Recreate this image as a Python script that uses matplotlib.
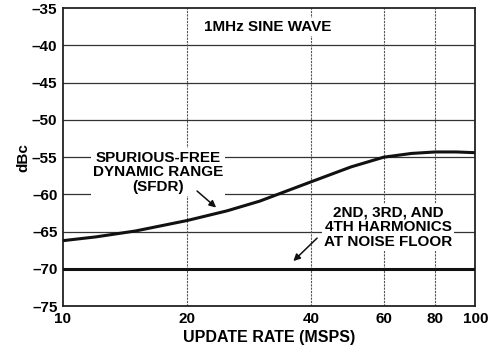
import matplotlib
matplotlib.use("Agg")
import matplotlib.pyplot as plt
from matplotlib.ticker import FixedLocator, NullLocator

plt.rcParams["font.family"] = ["Liberation Sans", "DejaVu Sans"]
plt.rcParams["font.weight"] = "bold"

# Data
sfdr_rate = [10, 12, 15, 20, 25, 30, 40, 50, 60, 70, 80, 90, 100]
sfdr_dbc = [-66.2, -65.7, -64.9, -63.5, -62.2, -60.9, -58.3, -56.3, -55.0, -54.5, -54.3, -54.3, -54.4]
floor_rate = [10, 100]
floor_dbc = [-70, -70]

x_ticks = [10, 20, 40, 60, 80, 100]
y_ticks = [-75, -70, -65, -60, -55, -50, -45, -40, -35]

fig = plt.figure(figsize=(4.92, 3.52), dpi=100)
ax = fig.add_axes([0.128, 0.13, 0.838, 0.847])

ax.set_xscale("log")
ax.set_xlim(10, 100)
ax.set_ylim(-75, -35)

# grid
for y in y_ticks[1:-1]:
    ax.axhline(y, color="#333333", lw=0.9, zorder=1)
for x in x_ticks[1:-1]:
    ax.axvline(x, color="#555555", lw=0.8, ls=(0, (2, 1)), zorder=1)

ax.plot(sfdr_rate, sfdr_dbc, color="#111111", lw=2.2, zorder=3)
ax.plot(floor_rate, floor_dbc, color="#111111", lw=2.2, zorder=3)

ax.xaxis.set_major_locator(FixedLocator(x_ticks))
ax.xaxis.set_minor_locator(NullLocator())
ax.set_xticklabels([str(v) for v in x_ticks])
ax.set_yticks(y_ticks)
ax.set_yticklabels(["\u2013%d" % abs(v) for v in y_ticks])
ax.tick_params(length=0, labelsize=11, pad=4)
for lab in ax.get_xticklabels() + ax.get_yticklabels():
    lab.set_fontweight("bold")

for s in ax.spines.values():
    s.set_linewidth(1.3)
    s.set_color("#222222")

ax.set_xlabel("UPDATE RATE (MSPS)", fontsize=11.5, fontweight="bold", labelpad=3)
ax.set_ylabel("dBc", fontsize=11, fontweight="bold", labelpad=1)

box = dict(facecolor="white", edgecolor="none", pad=1.5)
ax.text(31.3, -37.5, "1MHz SINE WAVE", fontsize=11, fontweight="bold",
        ha="center", va="center", bbox=box, zorder=4)
ax.text(17.0, -57.0, "SPURIOUS-FREE\nDYNAMIC RANGE\n(SFDR)", fontsize=11,
        fontweight="bold", ha="center", va="center", linespacing=1.05,
        bbox=box, zorder=4)
ax.text(61.5, -64.4, "2ND, 3RD, AND\n4TH HARMONICS\nAT NOISE FLOOR", fontsize=11,
        fontweight="bold", ha="center", va="center", linespacing=1.05,
        bbox=box, zorder=4)

ax.annotate("", xy=(23.8, -62.0), xytext=(20.9, -59.3),
            arrowprops=dict(arrowstyle="-|>", color="#111111", lw=1.1,
                            mutation_scale=10), zorder=5)
ax.annotate("", xy=(35.8, -69.2), xytext=(41.8, -65.6),
            arrowprops=dict(arrowstyle="-|>", color="#111111", lw=1.1,
                            mutation_scale=10), zorder=5)

fig.savefig("out.png", dpi=100)
